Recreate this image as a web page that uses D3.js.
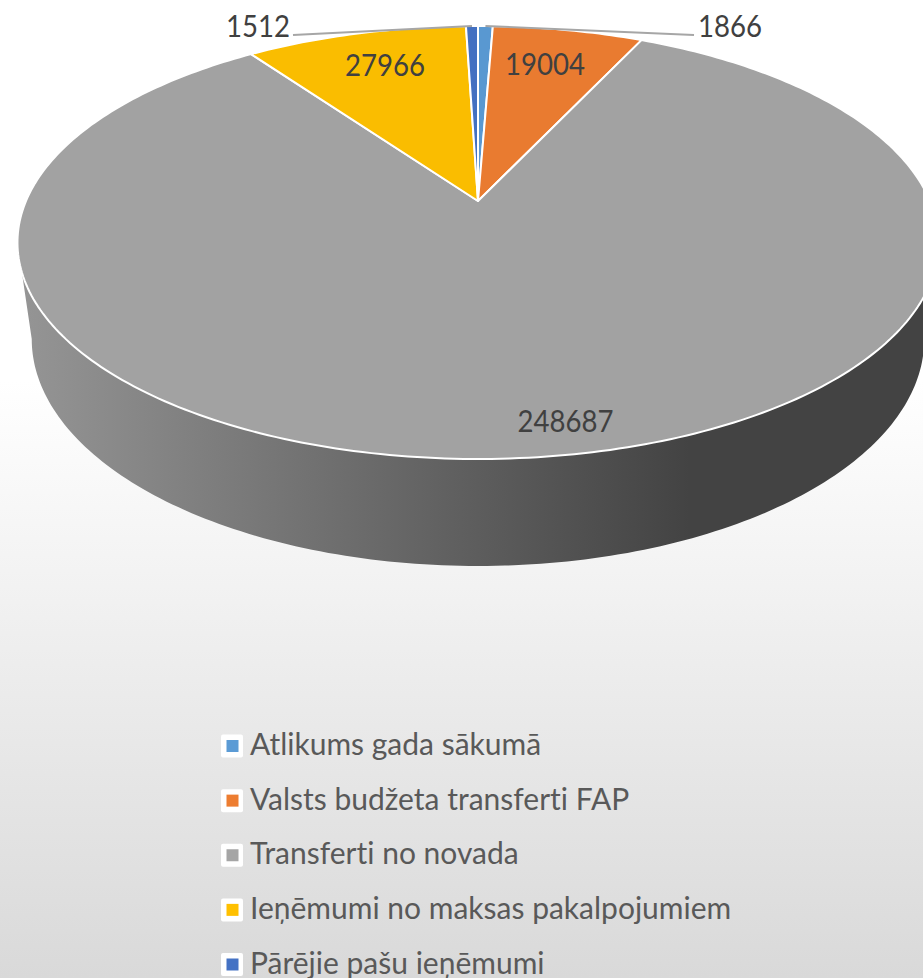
<!DOCTYPE html>
<html>
<head>
<meta charset="utf-8">
<script src="https://cdn.jsdelivr.net/npm/d3@7"></script>
<style>
  html, body { margin: 0; padding: 0; overflow: hidden; }
  svg { display: block; }
  text { font-family: Lato, "Open Sans", sans-serif; font-variant-ligatures: none; }
</style>
</head>
<body>
<svg width="923" height="978"></svg>
<script>
const categories = ['Atlikums gada sākumā', 'Valsts budžeta transferti FAP', 'Transferti no novada', 'Ieņēmumi no maksas pakalpojumiem', 'Pārējie pašu ieņēmumi'];
const values = [1866, 19004, 248687, 27966, 1512];
const colors = ['#5b9bd5', '#ed7d31', '#a5a5a5', '#ffc000', '#4472c4'];

// where each value label sits, index matches values
const labelPos = [[730, 26], [545, 64], [565.5, 421], [385, 65], [258, 26]];
// leader lines for the two thin slices
const leaders = [{ i: 0, x: 694, y: 35 }, { i: 4, x: 293, y: 35 }];

const svg = d3.select('svg');
const width = 923, height = 978;

const defs = svg.append('defs');
const bg = defs.append('linearGradient').attr('id', 'bg').attr('x1', 0).attr('x2', 0).attr('y1', 0).attr('y2', 1);
bg.append('stop').attr('offset', '0%').attr('stop-color', '#fff');
bg.append('stop').attr('offset', '39%').attr('stop-color', '#fff');
bg.append('stop').attr('offset', '100%').attr('stop-color', '#d9d9d9');

const wallGrad = defs.append('linearGradient').attr('id', 'wall')
  .attr('gradientUnits', 'userSpaceOnUse').attr('x1', 20).attr('x2', 690).attr('y1', 0).attr('y2', 0);
wallGrad.append('stop').attr('offset', '0%').attr('stop-color', '#959595');
wallGrad.append('stop').attr('offset', '100%').attr('stop-color', '#434343');

svg.append('rect').attr('width', width).attr('height', height).attr('fill', 'url(#bg)');

// excel style perspective: the circle is projected, so the apex is not the ellipse centre
const persp = -0.1917;
const topRim = { k: 452, a: 170, b: 201 };
const botRim = { k: 438, a: 162, b: 295.5 };
const cx = 478;

function project(angle, r, rim) {
  const u = Math.sin(angle) * r;
  const v = -Math.cos(angle) * r;
  const d = 1 + persp * v;
  return [cx + rim.k * u / d, (rim.a * v + rim.b) / d];
}

const pie = d3.pie().sort(null).value(d => d);
const arcs = pie(values);
const line = d3.line();

function rimPoints(a0, a1, rim) {
  const n = Math.max(2, Math.ceil((a1 - a0) * 60));
  return d3.range(n + 1).map(i => project(a0 + (a1 - a0) * i / n, 1, rim));
}

// side wall, only the near part shows
const wallFrom = Math.acos(persp);
const wallTo = 2 * Math.PI - wallFrom;
svg.append('path')
  .attr('d', line(rimPoints(wallFrom, wallTo, topRim).concat(rimPoints(wallFrom, wallTo, botRim).reverse())) + 'Z')
  .attr('fill', 'url(#wall)');

// top face
svg.selectAll('path.slice')
  .data(arcs)
  .join('path')
  .attr('class', 'slice')
  .attr('d', d => line([project(0, 0, topRim)].concat(rimPoints(d.startAngle, d.endAngle, topRim))) + 'Z')
  .attr('fill', (d, i) => d3.color(colors[i]).darker(0.05))
  .attr('stroke', '#fff')
  .attr('stroke-width', 2)
  .attr('stroke-linejoin', 'round');

// leader lines
svg.selectAll('line.leader')
  .data(leaders)
  .join('line')
  .attr('class', 'leader')
  .attr('x1', d => d.x)
  .attr('y1', d => d.y)
  .attr('x2', d => project((arcs[d.i].startAngle + arcs[d.i].endAngle) / 2, 1, topRim)[0])
  .attr('y2', d => project((arcs[d.i].startAngle + arcs[d.i].endAngle) / 2, 1, topRim)[1])
  .attr('stroke', '#a6a6a6')
  .attr('stroke-width', 2);

// value labels, squeezed a bit because Lato digits are wider than the original font
svg.selectAll('text.value')
  .data(values)
  .join('text')
  .attr('class', 'value')
  .attr('transform', (d, i) => `translate(${labelPos[i][0]},${labelPos[i][1]}) scale(0.92,1)`)
  .attr('text-anchor', 'middle')
  .attr('dominant-baseline', 'central')
  .attr('font-size', 30)
  .attr('fill', '#404040')
  .text(d => d);

// legend
const legendY = d3.scalePoint().domain(categories).range([746, 964.5]);
const legend = svg.selectAll('g.legend')
  .data(categories)
  .join('g')
  .attr('class', 'legend')
  .attr('transform', d => `translate(221,${legendY(d)})`);
legend.append('rect')
  .attr('y', -11.5).attr('width', 22).attr('height', 23).attr('rx', 2)
  .attr('fill', '#fff');
legend.append('rect')
  .attr('x', 5.5).attr('y', -6).attr('width', 12).attr('height', 12)
  .attr('fill', (d, i) => colors[i]);
legend.append('text')
  .attr('x', 29)
  .attr('dy', '0.3em')
  .attr('font-size', 30)
  .attr('fill', '#595959')
  .text(d => d);
</script>
</body>
</html>
